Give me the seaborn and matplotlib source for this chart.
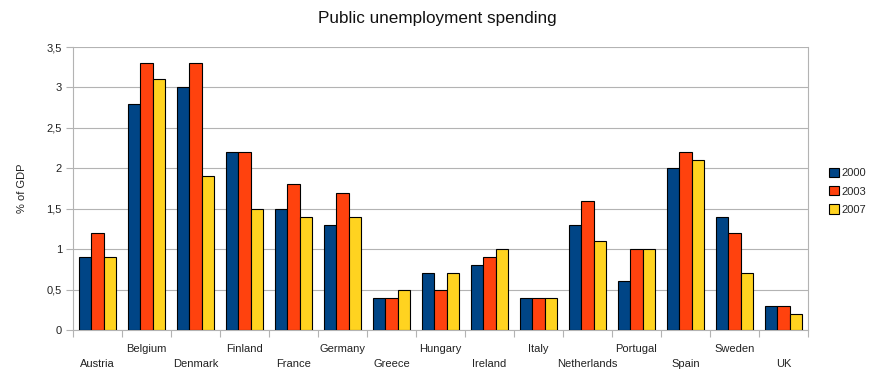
import matplotlib
matplotlib.use("Agg")
import matplotlib.pyplot as plt
import seaborn as sns
import pandas as pd
import numpy as np

countries = ["Austria", "Belgium", "Denmark", "Finland", "France", "Germany", "Greece",
             "Hungary", "Ireland", "Italy", "Netherlands", "Portugal", "Spain", "Sweden", "UK"]
years = ["2000", "2003", "2007"]
v2000 = [0.9, 2.8, 3.0, 2.2, 1.5, 1.3, 0.4, 0.7, 0.8, 0.4, 1.3, 0.6, 2.0, 1.4, 0.3]
v2003 = [1.2, 3.3, 3.3, 2.2, 1.8, 1.7, 0.4, 0.5, 0.9, 0.4, 1.6, 1.0, 2.2, 1.2, 0.3]
v2007 = [0.9, 3.1, 1.9, 1.5, 1.4, 1.4, 0.5, 0.7, 1.0, 0.4, 1.1, 1.0, 2.1, 0.7, 0.2]
yticks = [0, 0.5, 1, 1.5, 2, 2.5, 3, 3.5]
ytick_labels = ["0", "0,5", "1", "1,5", "2", "2,5", "3", "3,5"]
colors = ["#004586", "#ff420e", "#ffd320"]

df = pd.DataFrame({
    "country": countries * 3,
    "year": [y for y in years for _ in countries],
    "value": v2000 + v2003 + v2007,
})

sns.set_style("white")
plt.rcParams["font.family"] = ["Liberation Sans", "DejaVu Sans"]

fig = plt.figure(figsize=(8.74, 3.74), dpi=100)
ax = fig.add_axes([73 / 874, 44 / 374, (808 - 73) / 874, (330 - 47) / 374])

sns.barplot(data=df, x="country", y="value", hue="year", order=countries, hue_order=years,
            palette=colors, width=0.77, gap=0, edgecolor="black", linewidth=0.8,
            saturation=1, ax=ax, zorder=3)

ax.set_ylim(0, 3.5)
ax.set_xlim(-0.5, len(countries) - 0.5)
ax.set_yticks(yticks)
ax.set_yticklabels(ytick_labels, fontsize=8, color="#222222")
ax.yaxis.grid(True, color="#b3b3b3", linewidth=0.8, zorder=0)
ax.set_axisbelow(True)
ax.tick_params(axis="y", length=5, color="#b3b3b3", width=0.8, pad=3, left=True)

# category ticks between groups, labels staggered on two rows
ax.set_xticks(range(len(countries)))
ax.set_xticklabels([])
ax.set_xticks(np.arange(len(countries) + 1) - 0.5, minor=True)
ax.tick_params(axis="x", which="major", length=0)
ax.tick_params(axis="x", which="minor", length=5, color="#b3b3b3", width=0.8, bottom=True)
trans = ax.get_xaxis_transform()
for i, name in enumerate(countries):
    yoff = -0.12 if i % 2 == 0 else -0.067
    ax.text(i, yoff, name, transform=trans, ha="center", va="center",
            fontsize=8, color="#222222")

for side in ["left", "right", "bottom", "top"]:
    ax.spines[side].set_color("#b3b3b3")
    ax.spines[side].set_linewidth(0.8)
ax.spines["top"].set_visible(False)

ax.set_xlabel("")
ax.set_ylabel("% of GDP", fontsize=8, color="#222222", labelpad=14)

ax.legend(loc="center left", bbox_to_anchor=(1.028, 0.49), frameon=False, fontsize=8,
          handlelength=0.9, handleheight=0.9, handletextpad=0.25, labelspacing=0.7,
          borderaxespad=0, borderpad=0)

fig.text(437 / 874, 1 - 18 / 374, "Public unemployment spending", ha="center", va="center",
         fontsize=12.3, color="#111111")

fig.savefig("out.png", dpi=100)
